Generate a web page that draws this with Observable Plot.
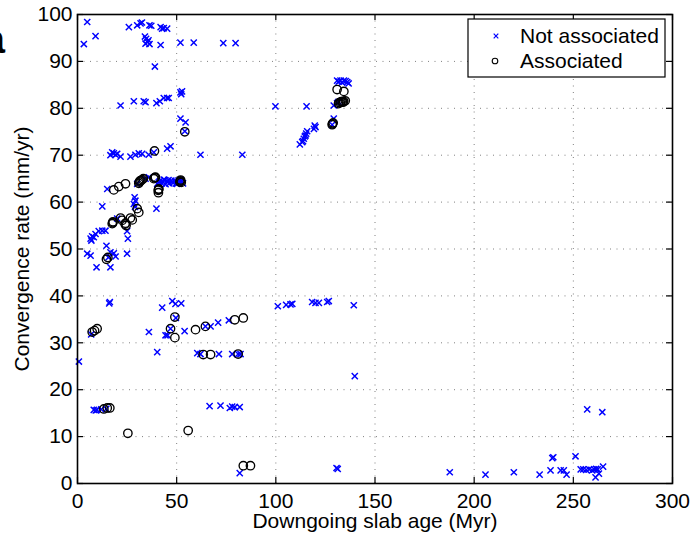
<!DOCTYPE html>
<html><head><meta charset="utf-8">
<script src="https://cdn.jsdelivr.net/npm/d3@7"></script>
<script src="https://cdn.jsdelivr.net/npm/@observablehq/plot@0.6"></script>
<style>body{margin:0;background:#fff;}</style>
</head><body><div id="chart"></div>
<script>
// ---- data ----
const notAssocX = [4.9,9.1,3.2,25.9,30.1,31.8,32.5,36.3,37.2,41.9,42.7,43.5,45.2,34.0,34.6,35.3,34.3,35.8,36.3,41.9,51.9,58.6,73.5,79.7,39.0,51.9,52.3,52.7,21.7,28.4,33.4,34.3,39.8,41.5,43.5,45.2,46.0,51.9,54.5,54.1,99.8,115.5,
16.6,17.5,18.3,19.2,20.0,21.7,26.7,29.2,30.9,32.6,35.9,38.5,45.2,46.9,62.0,83.1,15.0,
30.1,34.3,36.0,40.2,41.5,42.5,43.5,44.4,45.4,46.3,47.3,48.2,49.2,50.1,50.9,52.5,53.2,41.0,43.0,44.0,45.9,47.8,49.7,51.5,52.0,
28.4,29.2,28.8,29.0,12.5,39.8,20.0,25.0,25.4,6.6,7.4,8.2,9.1,10.7,12.5,14.1,7.0,14.6,4.9,6.6,16.6,18.3,25.0,19.2,9.6,16.6,15.6,
130.9,131.7,132.6,133.4,134.3,135.2,136.0,136.7,129.2,130.9,131.6,129.2,128.4,120.0,119.2,119.6,115.8,115.3,115.0,114.1,113.7,113.3,112.1,114.6,
16.3,16.0,42.7,47.8,49.4,52.3,49.6,101.0,105.2,107.4,108.3,118.3,120.0,121.7,125.9,126.7,139.3,
6.9,36.0,46.9,44.4,45.4,54.0,64.5,67.1,70.9,76.3,40.2,0.7,60.4,62.0,71.3,78.0,81.0,82.2,139.8,
66.6,72.1,76.8,78.0,79.3,81.8,8.2,9.2,9.9,12.0,14.5,81.8,130.6,131.2,
257.0,264.6,187.7,205.7,220.0,233.0,239.4,239.9,238.5,243.6,245.2,246.6,251.1,253.7,255.0,256.5,258.0,259.5,260.5,261.5,262.3,265.0,261.2,262.9];
const notAssocY = [98.4,95.4,93.7,97.3,97.7,98.1,98.3,97.7,97.6,97.3,97.0,97.1,97.0,95.3,94.8,94.1,93.8,94.5,93.7,93.5,94.0,94.0,93.9,93.9,88.9,83.4,83.0,83.6,80.6,81.5,81.5,81.3,81.1,81.5,82.2,82.2,82.2,77.8,77.0,75.1,80.4,80.4,
70.0,70.6,70.4,70.1,70.3,69.7,69.7,70.1,70.4,70.3,70.1,70.6,71.4,71.9,70.1,70.1,62.8,
63.9,65.0,65.3,63.9,64.5,64.0,64.8,63.8,64.4,64.0,64.6,64.1,64.5,63.9,64.6,64.3,64.0,64.2,64.3,64.7,64.7,64.3,64.0,64.2,64.7,
59.6,60.3,61.0,59.0,59.1,58.6,56.5,53.8,52.2,52.2,52.7,52.5,53.2,53.8,53.9,53.9,51.8,50.7,49.0,48.6,49.3,49.1,49.0,48.4,46.1,46.1,48.2,
85.9,85.7,85.9,85.5,85.9,85.8,85.6,85.3,80.6,81.1,81.4,77.8,76.5,76.0,75.6,76.3,75.1,74.6,74.2,73.5,73.0,72.8,72.3,74.0,
38.7,38.4,37.5,38.9,38.3,38.4,35.3,37.8,38.1,38.2,38.3,38.7,38.5,38.5,38.7,38.9,38.0,
31.8,32.3,33.0,31.6,31.6,32.5,33.5,33.5,34.3,34.8,28.0,26.0,27.8,27.6,27.6,27.6,27.6,27.6,22.9,
16.5,16.6,16.1,16.4,16.3,16.3,15.7,15.6,15.7,15.8,15.9,2.2,3.3,3.1,
15.8,15.2,2.4,1.9,2.4,1.9,5.4,5.6,2.8,2.8,2.8,1.9,5.8,3.0,3.0,2.9,3.0,2.8,3.0,3.1,3.0,3.6,1.3,2.1];
const assocX = [54.1,38.8,18.3,20.8,24.2,30.9,31.5,32.6,33.2,38.5,39.3,51.9,52.3,40.7,41.0,40.8,31.2,32.0,38.9,51.6,52.0,40.9,
30.1,30.9,26.7,21.7,22.5,27.6,17.5,17.9,24.2,24.5,15.3,14.6,17.8,24.0,
7.4,8.6,9.9,49.1,46.9,49.1,59.5,64.5,79.3,83.6,63.4,67.1,81.0,
13.3,15.0,16.3,25.4,55.8,83.6,87.2,
130.9,134.3,131.6,132.5,133.5,134.2,135.0,128.4,128.9,131.9,132.9,133.9,128.6];
const assocY = [75.0,70.9,62.6,63.3,63.9,64.0,64.5,64.8,65.0,65.0,65.3,64.5,64.2,62.5,62.8,62.0,64.3,64.6,65.2,64.3,64.7,62.7,
58.6,57.8,56.6,56.6,56.1,56.2,55.4,55.8,55.5,55.0,48.2,47.8,55.6,55.3,
32.3,32.6,33.0,35.5,33.0,31.1,32.8,33.5,34.9,35.3,27.5,27.5,27.6,
15.9,16.1,16.1,10.7,11.3,3.8,3.8,
84.0,83.6,81.0,81.2,81.4,81.5,81.6,76.5,76.9,81.2,81.4,81.3,76.7];
const xTicks = [0,50,100,150,200,250,300];
const yTicks = [0,10,20,30,40,50,60,70,80,90,100];
const xLabel = "Downgoing slab age (Myr)";
const yLabel = "Convergence rate (mm/yr)";
const legendLabels = ["Not associated","Associated"];
const panelLabel = "a";

// ---- build ----
const notAssoc = notAssocX.map((x,i)=>({x, y: notAssocY[i]}));
const assoc = assocX.map((x,i)=>({x, y: assocY[i]}));
const FONT = "'Liberation Sans', Arial, Helvetica, sans-serif";
const W = 694, H = 535, mL = 77, mR = 22, mT = 14, mB = 52;
const fH = H - mT - mB, fW = W - mL - mR, TL = 6;

const plot = Plot.plot({
  width: W, height: H,
  marginLeft: mL, marginRight: mR, marginTop: mT, marginBottom: mB,
  style: {fontFamily: FONT, fontSize: "21px", background: "#fff", color: "#000"},
  x: {domain: [0, 300]},
  y: {domain: [0, 100]},
  marks: [
    Plot.gridX({ticks: xTicks, stroke: "#808080", strokeOpacity: 1, strokeDasharray: "1,5.5"}),
    Plot.gridY({ticks: yTicks, stroke: "#808080", strokeOpacity: 1, strokeDasharray: "1,5.5"}),
    Plot.dot(notAssoc, {x: "x", y: "y", symbol: "times", r: 2.9, stroke: "#0000ff", strokeWidth: 1.45}),
    Plot.dot(assoc, {x: "x", y: "y", symbol: "circle", r: 4.2, stroke: "#000", fill: "none", strokeWidth: 1.35}),
    Plot.tickX(xTicks, {x: d => d, insetTop: fH - TL, stroke: "#000", strokeWidth: 1.2}),
    Plot.tickX(xTicks, {x: d => d, insetBottom: fH - TL, stroke: "#000", strokeWidth: 1.2}),
    Plot.tickY(yTicks, {y: d => d, insetLeft: fW - TL, stroke: "#000", strokeWidth: 1.2}),
    Plot.tickY(yTicks, {y: d => d, insetRight: fW - TL, stroke: "#000", strokeWidth: 1.2}),
    Plot.frame({stroke: "#000", strokeWidth: 1.6}),
    Plot.axisX({ticks: xTicks, tickSize: 0, tickPadding: 10, label: null, fontSize: 21}),
    Plot.axisY({ticks: yTicks, tickSize: 0, tickPadding: 5, label: null, fontSize: 21}),
    Plot.text([xLabel], {text: d => d, frameAnchor: "bottom", lineAnchor: "middle", textAnchor: "middle", dy: 38, fontSize: 21}),
    Plot.text([yLabel], {text: d => d, frameAnchor: "left", lineAnchor: "middle", textAnchor: "middle", dx: -55, rotate: -90, fontSize: 21})
  ]
});

const svg = d3.select(plot);
// partial panel letter at the left edge
svg.append("text").text(panelLabel)
  .attr("x", 5).attr("y", 53).attr("text-anchor", "end")
  .attr("font-family", FONT).attr("font-weight", "bold").attr("font-size", 40).attr("fill", "#000");

// legend
const lg = svg.append("g");
lg.append("rect").attr("x", 468).attr("y", 19).attr("width", 197).attr("height", 58)
  .attr("fill", "#fff").attr("stroke", "#000").attr("stroke-width", 1.2);
lg.append("path").attr("d", "M-2.3,-2.3L2.3,2.3M-2.3,2.3L2.3,-2.3")
  .attr("transform", "translate(496,36)").attr("stroke", "#0000ff").attr("stroke-width", 1.2).attr("fill", "none");
lg.append("circle").attr("cx", 495).attr("cy", 61).attr("r", 2.8)
  .attr("stroke", "#000").attr("stroke-width", 1.1).attr("fill", "none");
legendLabels.forEach((t, i) => {
  lg.append("text").text(t).attr("x", 520).attr("y", 36 + i * 25)
    .attr("dy", "0.35em").attr("text-anchor", "start")
    .attr("font-family", FONT).attr("font-size", 21).attr("fill", "#000");
});

document.getElementById("chart").appendChild(plot);
</script>
</body></html>
